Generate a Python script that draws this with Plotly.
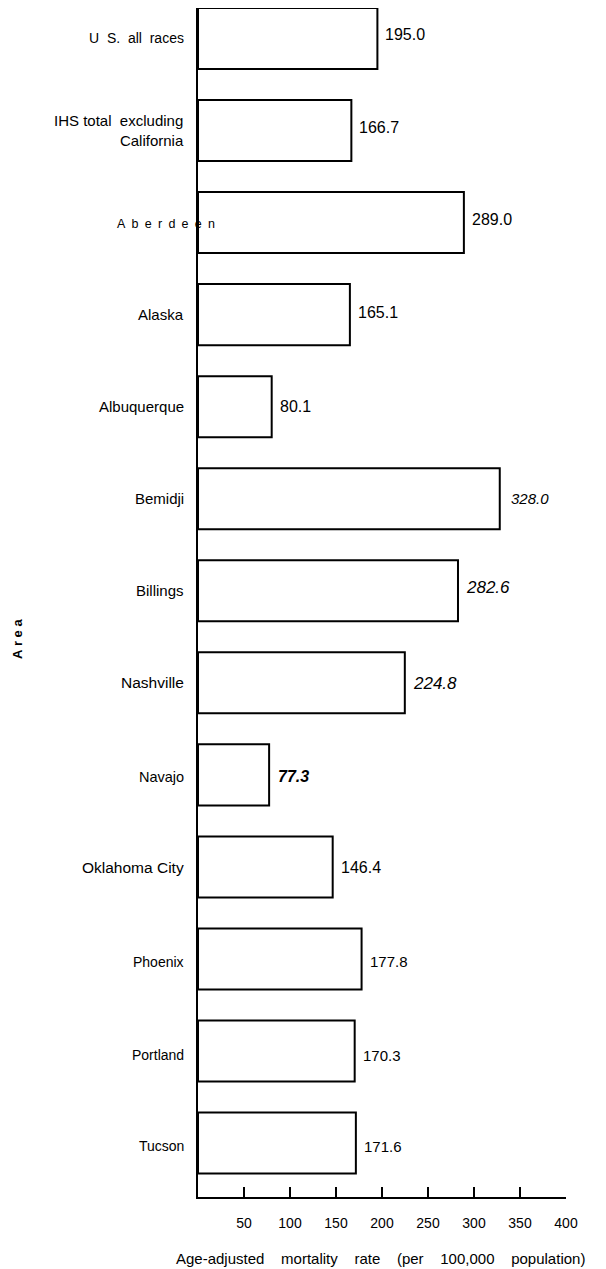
import plotly.graph_objects as go

areas = ["U S. all races", "IHS total excluding California", "Aberdeen", "Alaska",
         "Albuquerque", "Bemidji", "Billings", "Nashville", "Navajo",
         "Oklahoma City", "Phoenix", "Portland", "Tucson"]
rates = [195.0, 166.7, 289.0, 165.1, 80.1, 328.0, 282.6, 224.8, 77.3, 146.4,
         177.8, 170.3, 171.6]
tick_values = [50, 100, 150, 200, 250, 300, 350, 400]
x_title = "Age-adjusted mortality rate (per 100,000 population)"
y_title = "Area"

FONT = "Liberation Sans, Arial, sans-serif"
NB = "\u00a0"

fig = go.Figure()
fig.add_trace(go.Bar(
    x=rates, y=areas, orientation="h",
    marker=dict(color="white", line=dict(color="black", width=2)),
    hoverinfo="x+y", showlegend=False,
))

# ---- category labels (styled text) ----
disp = {
    "U S. all races": "U" + NB + " S." + NB + " all" + NB + " races",
    "IHS total excluding California": "IHS total" + NB + " excluding<br>California",
    "Aberdeen": "\u2002".join("Aberdeen"),
}
lab_size = {"U S. all races": 14, "IHS total excluding California": 15, "Aberdeen": 12.5,
            "Alaska": 15, "Albuquerque": 15, "Bemidji": 15, "Billings": 15,
            "Nashville": 15.5, "Navajo": 14.5, "Oklahoma City": 15.5, "Phoenix": 14,
            "Portland": 14, "Tucson": 14}
lab_yshift = {"Aberdeen": -1, "Phoenix": -3, "Portland": -4, "Tucson": -3,
              "Navajo": -2, "Oklahoma City": -1}
annotations = []
for a in areas:
    xs = 19 if a == "Aberdeen" else -12
    annotations.append(dict(x=0, xref="x", y=a, yref="y", text=disp.get(a, a),
                            xanchor="right", align="right", xshift=xs,
                            yshift=lab_yshift.get(a, 0), showarrow=False,
                            font=dict(family=FONT, size=lab_size[a], color="black")))

# ---- value labels ----
val_size = {"Phoenix": 15, "Portland": 15, "Tucson": 15, "Bemidji": 15,
            "Billings": 17, "Nashville": 17}
val_yshift = {"U S. all races": 4, "IHS total excluding California": 3, "Aberdeen": 3,
              "Alaska": 2, "Billings": 3, "Navajo": -2, "Oklahoma City": -1,
              "Phoenix": -3, "Portland": -4, "Tucson": -3, "Nashville": -1}
val_xshift = {"Bemidji": 9, "Navajo": 7}
for a, v in zip(areas, rates):
    t = f"{v:.1f}"
    if a in ("Billings", "Nashville", "Bemidji"):
        t = f"<i>{t}</i>"
    elif a == "Navajo":
        t = f"<b><i>{t}</i></b>"
    annotations.append(dict(x=v, xref="x", y=a, yref="y", text=t, xanchor="left",
                            xshift=val_xshift.get(a, 6), yshift=val_yshift.get(a, 0),
                            showarrow=False,
                            font=dict(family=FONT, size=val_size.get(a, 16),
                                      color="black")))

# ---- axis titles ----
gap = NB * 3 + " "
title_text = gap.join(x_title.split(" "))
annotations.append(dict(x=0.4946, xref="paper", y=-0.0521, yref="paper",
                        xanchor="center", yanchor="middle",
                        text=title_text, showarrow=False,
                        font=dict(family=FONT, size=15, color="black")))
annotations.append(dict(x=-0.492, xref="paper", y=0.470, yref="paper",
                        xanchor="center", yanchor="middle",
                        text="<b>" + NB.join(y_title) + "</b>",
                        textangle=-90, showarrow=False,
                        font=dict(family=FONT, size=13, color="black")))

# page has an 8px body margin; figure sized/placed to compensate
fig.update_layout(
    width=598, height=1261,
    margin=dict(l=190, r=40, t=0, b=72),
    paper_bgcolor="white", plot_bgcolor="white",
    bargap=0.337,
    annotations=annotations,
    font=dict(family=FONT, color="black"),
    xaxis=dict(range=[0, 400], tickvals=tick_values, ticks="inside", ticklen=10,
               tickwidth=2, tickcolor="black", showline=True, linecolor="black",
               linewidth=2, showgrid=False, zeroline=False, ticklabelstandoff=12,
               tickfont=dict(family=FONT, size=14, color="black")),
    yaxis=dict(categoryorder="array", categoryarray=areas, range=[12.586, -0.331],
               showticklabels=False, ticks="", showline=True, linecolor="black",
               linewidth=2, showgrid=False, zeroline=False),
)

fig.write_html("out.html")
